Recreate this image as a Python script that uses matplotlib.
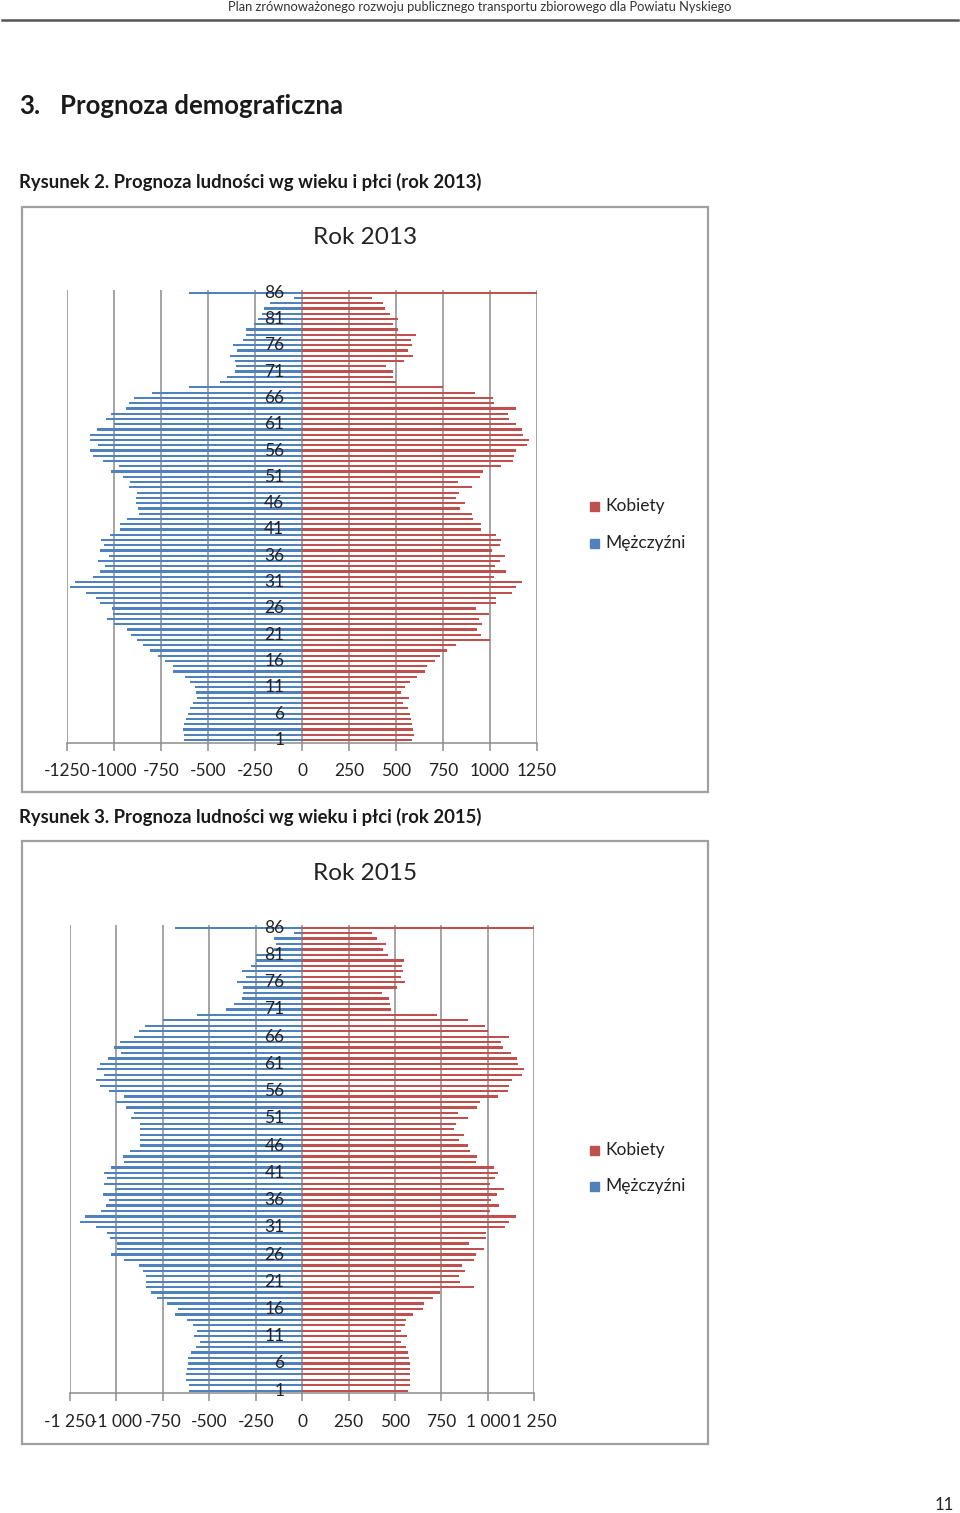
import matplotlib
matplotlib.use("Agg")
import matplotlib.pyplot as plt
from matplotlib.patches import Rectangle
import numpy as np

plt.rcParams['font.family'] = ['Lato', 'DejaVu Sans']

W, H = 960, 1513

# categories 1..86 (labels every 5th)
ages = list(range(1, 87))
age_labels = [str(a) for a in range(1, 87, 5)]

men_2013 = [626, 629, 633, 629, 615, 608, 598, 580, 558, 562,
            567, 594, 624, 688, 688, 730, 768, 807, 848, 878,
            910, 931, 998, 1037, 1005, 1011, 1073, 1094, 1147, 1232,
            1206, 1113, 1076, 1050, 1085, 1028, 1073, 1055, 1067, 1023,
            970, 966, 931, 869, 874, 881, 881, 878, 922, 917,
            954, 1016, 975, 1058, 1113, 1126, 1085, 1129, 1126, 1090,
            1002, 1042, 1016, 938, 922, 895, 798, 603, 434, 399,
            355, 351, 355, 385, 346, 367, 314, 300, 298, 255,
            235, 215, 200, 172, 45, 603]
women_2013 = [583, 594, 592, 587, 580, 574, 562, 535, 567, 525,
              548, 574, 613, 652, 667, 709, 732, 769, 817, 1000,
              952, 929, 959, 943, 995, 924, 1030, 1030, 1115, 1137,
              1172, 1019, 1083, 1025, 1051, 1080, 1009, 1053, 1057, 1032,
              950, 952, 908, 902, 840, 867, 817, 835, 904, 832,
              947, 965, 1060, 1124, 1126, 1137, 1195, 1207, 1177, 1172,
              1137, 1099, 1094, 1138, 1019, 1014, 920, 748, 498, 482,
              482, 447, 541, 592, 566, 583, 580, 605, 512, 486,
              512, 470, 441, 429, 374, 1248]
men_2015 = [610, 610, 626, 624, 619, 615, 615, 597, 574, 550,
            583, 565, 586, 622, 685, 667, 727, 781, 813, 840,
            840, 840, 858, 880, 957, 1029, 997, 997, 1033, 1051,
            1108, 1198, 1168, 1081, 1056, 1042, 1072, 1006, 1065, 1051,
            1069, 1029, 961, 966, 925, 871, 871, 871, 871, 871,
            919, 907, 950, 1002, 957, 1041, 1086, 1108, 1068, 1104,
            1086, 1047, 973, 1014, 979, 903, 880, 844, 750, 568,
            408, 367, 322, 317, 317, 349, 304, 326, 277, 250,
            250, 150, 140, 150, 45, 682]
women_2015 = [568, 581, 583, 581, 579, 579, 576, 570, 559, 533,
              567, 531, 556, 561, 597, 649, 654, 703, 742, 923,
              848, 845, 875, 862, 923, 934, 977, 900, 988, 992,
              1094, 1113, 1149, 1013, 1061, 1017, 1051, 1085, 1013, 1040,
              1052, 1033, 936, 941, 905, 895, 844, 871, 819, 828,
              893, 841, 943, 957, 1054, 1106, 1115, 1128, 1182, 1194,
              1162, 1156, 1124, 1079, 1069, 1112, 999, 986, 895, 726,
              481, 472, 466, 429, 513, 556, 531, 541, 538, 547,
              463, 437, 450, 405, 378, 1253]

x_ticks = [-1250, -1000, -750, -500, -250, 0, 250, 500, 750, 1000, 1250]
x_labels_2013 = ['-1250', '-1000', '-750', '-500', '-250', '0', '250', '500', '750', '1000', '1250']
x_labels_2015 = ['-1 250', '-1 000', '-750', '-500', '-250', '0', '250', '500', '750', '1 000', '1 250']

BLUE = '#4F81BD'
RED = '#C0504D'
GRID = '#8C8C8C'


def fx(x):
    return x / W


def fy(y):
    return 1 - y / H


def text_px(fig, x, y, s, **kw):
    fig.text(fx(x), fy(y), s, **kw)


def pyramid(fig, rect_px, men, women, xlabels):
    l, t, r, b = rect_px
    ax = fig.add_axes([fx(l), fy(b), (r - l) / W, (b - t) / H])
    pos = np.arange(len(ages))
    ax.barh(pos, [-m for m in men], height=0.42, color=BLUE, zorder=3)
    ax.barh(pos, women, height=0.42, color=RED, zorder=3)
    ax.set_xlim(-1250, 1250)
    ax.set_ylim(-0.5, len(ages) - 0.5)
    for xt in x_ticks:
        ax.axvline(xt, color=GRID, lw=1.1, zorder=1)
    for s in ['top', 'left', 'right']:
        ax.spines[s].set_visible(False)
    ax.spines['bottom'].set_color(GRID)
    ax.spines['bottom'].set_linewidth(1.1)
    ax.set_yticks([])
    ax.set_xticks(x_ticks)
    ax.set_xticklabels(xlabels, fontsize=12.5, color='#222222')
    ax.tick_params(axis='x', direction='out', length=6, color=GRID, width=1.1, pad=9)
    for a, lab in zip(range(1, 87, 5), age_labels):
        ax.text(-95, a - 1, lab, ha='right', va='center', fontsize=12.5,
                color='#222222', zorder=4)
    return ax


def legend(fig, x, y1, y2):
    fig.add_artist(Rectangle((fx(x), fy(y1 + 5)), 9 / W, 9 / H,
                             transform=fig.transFigure, color=RED))
    text_px(fig, x + 15, y1, 'Kobiety', fontsize=12.5, va='center', color='#222222')
    fig.add_artist(Rectangle((fx(x), fy(y2 + 5)), 9 / W, 9 / H,
                             transform=fig.transFigure, color=BLUE))
    text_px(fig, x + 15, y2, 'Mężczyźni', fontsize=12.5, va='center', color='#222222')


def box(fig, l, t, r, b):
    fig.add_artist(Rectangle((fx(l), fy(b)), (r - l) / W, (b - t) / H,
                             transform=fig.transFigure, fill=False,
                             edgecolor='#A0A0A0', lw=1.6))


fig = plt.figure(figsize=(9.6, 15.13), dpi=100)

# page header
text_px(fig, 480, 7, 'Plan zrównoważonego rozwoju publicznego transportu zbiorowego dla Powiatu Nyskiego',
        fontsize=9.3, ha='center', va='center', color='#333333')
fig.add_artist(plt.Line2D([fx(2), fx(958)], [fy(20), fy(20)], transform=fig.transFigure,
                          color='#555555', lw=1.8))
text_px(fig, 19, 106, '3.', fontsize=18.5, fontweight='bold', va='center', color='#1a1a1a')
text_px(fig, 60, 106, 'Prognoza demograficzna', fontsize=18.5, fontweight='bold', va='center', color='#1a1a1a')

# Figure 2
text_px(fig, 19, 182, 'Rysunek 2. Prognoza ludności wg wieku i płci (rok 2013)',
        fontsize=13.3, fontweight='bold', va='center', color='#1a1a1a')
box(fig, 22, 207, 708, 792)
text_px(fig, 365, 238, 'Rok 2013', fontsize=17.5, ha='center', va='center', color='#222222')
pyramid(fig, (67, 290, 537, 742.6), men_2013, women_2013, x_labels_2013)
legend(fig, 590, 506, 543)

# Figure 3
text_px(fig, 19, 817, 'Rysunek 3. Prognoza ludności wg wieku i płci (rok 2015)',
        fontsize=13.3, fontweight='bold', va='center', color='#1a1a1a')
box(fig, 22, 841, 708, 1444)
text_px(fig, 365, 873, 'Rok 2015', fontsize=17.5, ha='center', va='center', color='#222222')
pyramid(fig, (70, 925, 534.3, 1393.4), men_2015, women_2015, x_labels_2015)
legend(fig, 590, 1150, 1186)

text_px(fig, 944, 1505, '11', fontsize=12, ha='center', va='center', color='#222222')

fig.savefig('out.png', dpi=100)
